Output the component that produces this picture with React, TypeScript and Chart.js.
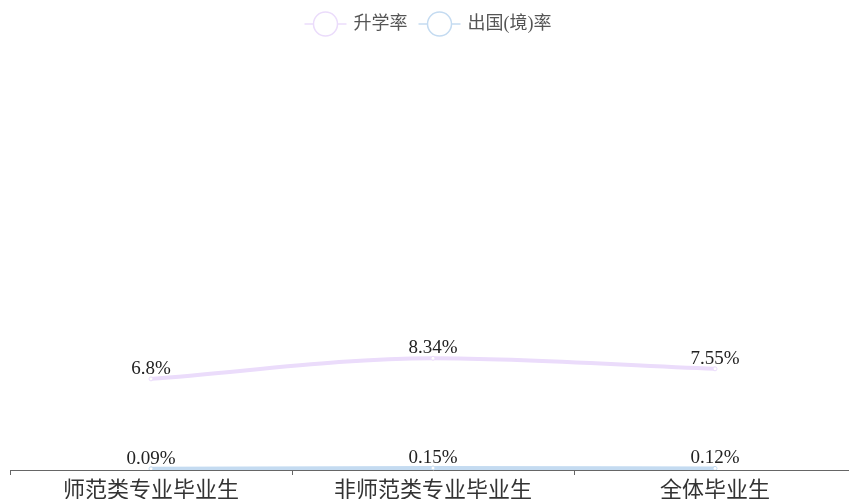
import React, { useEffect, useRef } from "react";
import { Chart, registerables } from "chart.js";

Chart.register(...registerables);

const categories = ["师范类专业毕业生", "非师范类专业毕业生", "全体毕业生"];
const seriesNames = ["升学率", "出国(境)率"];
const furtherStudyRate = [6.8, 8.34, 7.55];
const abroadRate = [0.09, 0.15, 0.12];
const lineColors = ["#ebdcfb", "#c4dbf1"];

const SERIF = "'Liberation Serif', 'Times New Roman', 'Noto Sans CJK SC', serif";

const labelPlugin = {
  id: "valueLabels",
  afterDatasetsDraw(chart: any) {
    const ctx = chart.ctx;
    ctx.save();
    ctx.font = `19px ${SERIF}`;
    ctx.fillStyle = "#222";
    ctx.textAlign = "center";
    ctx.textBaseline = "alphabetic";
    chart.data.datasets.forEach((ds: any, i: number) => {
      const meta = chart.getDatasetMeta(i);
      meta.data.forEach((pt: any, j: number) => {
        ctx.fillText(`${ds.data[j]}%`, pt.x, pt.y - 5);
      });
    });
    ctx.restore();
  },
};

const legendPlugin = {
  id: "customLegend",
  afterDraw(chart: any) {
    const ctx = chart.ctx;
    ctx.save();
    ctx.font = `18px ${SERIF}`;
    const iconW = 42;
    const gapIconText = 7;
    const gapItems = 11;
    const widths = seriesNames.map((n) => iconW + gapIconText + ctx.measureText(n).width);
    const total = widths.reduce((a, b) => a + b, 0) + gapItems * (widths.length - 1);
    const area = chart.chartArea;
    let x = (area.left + area.right) / 2 - total / 2 - 5;
    const y = 24;
    seriesNames.forEach((n, i) => {
      const c = lineColors[i];
      ctx.strokeStyle = c;
      ctx.lineWidth = 1.5;
      ctx.beginPath();
      ctx.moveTo(x, y);
      ctx.lineTo(x + iconW, y);
      ctx.stroke();
      ctx.beginPath();
      ctx.fillStyle = "#fff";
      ctx.arc(x + iconW / 2, y, 12, 0, Math.PI * 2);
      ctx.fill();
      ctx.stroke();
      ctx.fillStyle = "#555";
      ctx.textAlign = "left";
      ctx.textBaseline = "middle";
      ctx.fillText(n, x + iconW + gapIconText, y);
      x += widths[i] + gapItems;
    });
    ctx.restore();
  },
};

export default function App() {
  const ref = useRef<HTMLCanvasElement | null>(null);
  useEffect(() => {
    document.body.style.overflow = "hidden";
    const chart = new Chart(ref.current as HTMLCanvasElement, {
      type: "line",
      data: {
        labels: categories,
        datasets: [
          {
            label: seriesNames[0],
            data: furtherStudyRate,
            borderColor: lineColors[0],
            backgroundColor: "#fff",
            borderWidth: 4,
            cubicInterpolationMode: "monotone",
            pointRadius: 2,
            pointBorderWidth: 1,
            pointBackgroundColor: "#fff",
            pointBorderColor: lineColors[0],
          },
          {
            label: seriesNames[1],
            data: abroadRate,
            borderColor: lineColors[1],
            backgroundColor: "#fff",
            borderWidth: 4,
            cubicInterpolationMode: "monotone",
            pointRadius: 2,
            pointBorderWidth: 1,
            pointBackgroundColor: "#fff",
            pointBorderColor: lineColors[1],
          },
        ],
      },
      options: {
        responsive: false,
        animation: false,
        layout: { padding: { left: 10, right: 14, top: 68, bottom: 0 } },
        plugins: {
          legend: { display: false },
          tooltip: { enabled: false },
        },
        scales: {
          x: {
            offset: true,
            grid: {
              offset: true,
              display: true,
              drawOnChartArea: false,
              drawTicks: true,
              tickLength: 5,
              tickColor: "#666",
            },
            border: { display: true, color: "#666", width: 1 },
            ticks: {
              color: "#333",
              font: { family: SERIF, size: 22 },
              padding: 3,
              autoSkip: false,
              maxRotation: 0,
            },
            afterFit: (scale: any) => {
              scale.height = 29;
            },
          },
          y: {
            display: false,
            min: 0,
            max: 30,
          },
        },
      },
      plugins: [labelPlugin, legendPlugin],
    });
    return () => chart.destroy();
  }, []);
  return (
    <div style={{ position: "fixed", left: 0, top: 0, width: 849, height: 499, overflow: "hidden" }}>
      <canvas ref={ref} width={870} height={499} style={{ width: 870, height: 499, display: "block" }} />
    </div>
  );
}
